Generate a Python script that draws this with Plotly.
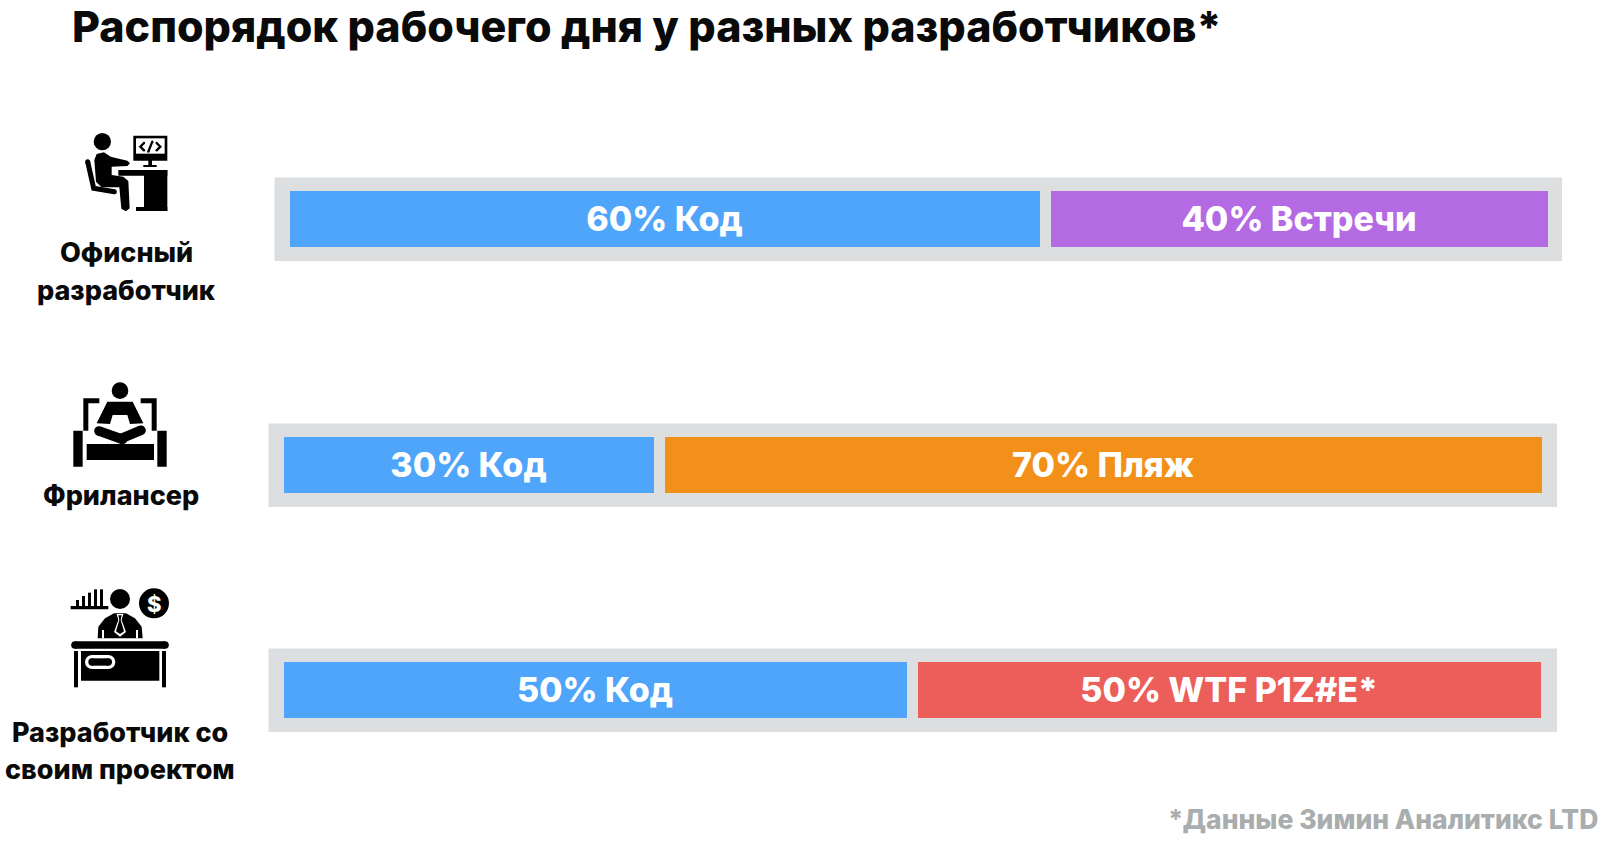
import plotly.graph_objects as go

# ---------- data ----------
title = "Распорядок рабочего дня у разных разработчиков*"
footnote = "*Данные Зимин Аналитикс LTD"
roles = [["Офисный", "разработчик"], ["Фрилансер"], ["Разработчик со", "своим проектом"]]
code_values = [60, 30, 50]
other_values = [40, 70, 50]
code_labels = ["60% Код", "30% Код", "50% Код"]
other_labels = ["40% Встречи", "70% Пляж", "50% WTF P1Z#E*"]

BLUE = "#4FA5FA"
other_colors = ["#B36AE2", "#F29019", "#EC5E5A"]
TRACK = "#DCDEE0"
FONT = "Inter"

W, H = 1600, 845
# pixel geometry: track box (x0, x1, y0, y1) and coloured-bar extent
tracks = [(274.5, 1562, 177.5, 261), (268.5, 1557, 423.5, 507), (268.5, 1557, 648.5, 732)]
fills = [(290, 1548, 191, 247), (284, 1542, 437, 493), (284, 1541, 662.5, 718.5)]
GAP = 11

fig = go.Figure()
layout = dict(
    width=W, height=H, margin=dict(l=0, r=0, t=0, b=0, pad=0, autoexpand=False),
    paper_bgcolor="white", plot_bgcolor="rgba(0,0,0,0)",
    barmode="stack", showlegend=False, autosize=False,
    font=dict(family=FONT), bargap=0,
)
shapes, annotations = [], []

for i in range(3):
    suf = "" if i == 0 else str(i + 1)
    tx0, tx1, ty0, ty1 = tracks[i]
    fx0, fx1, fy0, fy1 = fills[i]
    # data rectangle sits GAP/2 outside the visible fill: outline is track-coloured
    rx0, rx1 = fx0 - GAP / 2, fx1 + GAP / 2
    per = (rx1 - rx0) / 100
    xr = [(tx0 - rx0) / per, (tx1 - rx0) / per]
    bar_w = (fy1 - fy0 + GAP) / (ty1 - ty0)
    for val, lab, col in ((code_values[i], code_labels[i], BLUE), (other_values[i], other_labels[i], other_colors[i])):
        fig.add_trace(go.Bar(
            x=[val], y=[0], orientation="h", width=[bar_w],
            xaxis="x" + suf, yaxis="y" + suf,
            marker=dict(color=col, line=dict(color=TRACK, width=GAP)),
            text=[lab], texttemplate="%{text}", textposition="inside",
            insidetextanchor="middle", textangle=0, constraintext="none",
            textfont=dict(family=FONT, size=34, color="white", weight=800),
            hoverinfo="skip",
        ))
    layout["xaxis" + suf] = dict(domain=[tx0 / W, tx1 / W], range=xr, visible=False, fixedrange=True, anchor="y" + suf)
    layout["yaxis" + suf] = dict(domain=[1 - ty1 / H, 1 - ty0 / H], range=[-0.5, 0.5], visible=False, fixedrange=True, anchor="x" + suf)
    shapes.append(dict(type="rect", xref=("x" + suf + " domain"), yref=("y" + suf + " domain"),
                       x0=0, x1=1, y0=0, y1=1, fillcolor=TRACK, line_width=0, layer="below"))

# overlay pixel axes for the pictograms
layout["xaxis4"] = dict(domain=[0, 1], range=[0, W], visible=False, fixedrange=True, anchor="y4")
layout["yaxis4"] = dict(domain=[0, 1], range=[H, 0], visible=False, fixedrange=True, anchor="x4")
fig.add_trace(go.Scatter(x=[0], y=[0], xaxis="x4", yaxis="y4", mode="markers", marker=dict(opacity=0), hoverinfo="skip"))


def px(ox, oy, x, y):
    return ox + x / 3, oy + y / 3


def rect(ox, oy, x0, y0, x1, y1, color="black"):
    a, b = px(ox, oy, x0, y0)
    c, d = px(ox, oy, x1, y1)
    shapes.append(dict(type="rect", xref="x4", yref="y4", x0=a, y0=b, x1=c, y1=d, fillcolor=color, line_width=0, layer="above"))


def circ(ox, oy, cx, cy, r, color="black"):
    a, b = px(ox, oy, cx, cy)
    r = r / 3
    shapes.append(dict(type="circle", xref="x4", yref="y4", x0=a - r, y0=b - r, x1=a + r, y1=b + r, fillcolor=color, line_width=0, layer="above"))


def poly(ox, oy, pts, color="black", closed=True, lw=0):
    s = ""
    for k, (x, y) in enumerate(pts):
        a, b = px(ox, oy, x, y)
        s += ("M" if k == 0 else "L") + f"{a:.2f},{b:.2f} "
    if closed:
        s += "Z"
    d = dict(type="path", xref="x4", yref="y4", path=s, layer="above")
    if closed:
        d.update(fillcolor=color, line_width=0)
    else:
        d.update(fillcolor="rgba(0,0,0,0)", line=dict(color=color, width=lw / 3))
    shapes.append(d)


def stroke(ox, oy, pts, lw, color="black"):
    poly(ox, oy, pts, color=color, closed=False, lw=lw)
    for x, y in (pts[0], pts[-1]):
        circ(ox, oy, x, y, lw / 2, color)


# icon 1: developer at desk
o = (0, 110)
circ(*o, 307, 95, 26)
rect(*o, 400, 77, 502, 152)
rect(*o, 408, 85, 494, 131, "white")
stroke(*o, [(432, 99), (421, 110), (432, 121)], 7)
stroke(*o, [(470, 99), (481, 110), (470, 121)], 7)
stroke(*o, [(457, 95), (445, 125)], 7)
rect(*o, 445, 150, 456, 166)
rect(*o, 430, 165, 470, 171)
rect(*o, 355, 180, 502, 197)
rect(*o, 432, 180, 502, 303)
rect(*o, 408, 291, 502, 303)
poly(*o, [(283, 150), (290, 132), (312, 127), (332, 140), (382, 152), (390, 160), (382, 168), (335, 170),
          (335, 195), (370, 200), (385, 213), (389, 295), (378, 304), (364, 296), (358, 232), (305, 232), (288, 215)])
stroke(*o, [(263, 155), (281, 235), (343, 245)], 15)

# icon 2: freelancer on a sofa
o = (0, 360)
circ(*o, 360, 92, 25)
for m in (False, True):
    f = (lambda x: 720 - x) if m else (lambda x: x)
    poly(*o, [(f(a), b) for a, b in [(250, 115), (298, 115), (298, 130), (265, 130), (265, 212), (248, 212),
                                     (248, 320), (220, 320), (220, 212), (250, 212)]])
    poly(*o, [(f(a), b) for a, b in [(322, 125), (360, 125), (360, 165), (338, 165), (330, 192), (290, 190)]])
stroke(*o, [(297, 213), (368, 238)], 29)
stroke(*o, [(423, 211), (362, 236)], 29)
rect(*o, 260, 252, 462, 300)

# icon 3: developer with own project
o = (0, 570)
rect(*o, 212, 108, 325, 118)
for bx, top in zip((228, 246, 264, 282, 300), (90, 78, 68, 58, 58)):
    rect(*o, bx, top, bx + 9, 110)
circ(*o, 360, 87, 30)
circ(*o, 462, 100, 45)
poly(*o, [(293, 205), (295, 170), (315, 145), (342, 130), (378, 130), (405, 145), (425, 170), (428, 205)])
poly(*o, [(350, 132), (370, 132), (365, 150), (378, 186), (360, 200), (342, 186), (355, 150)], "white")
poly(*o, [(355, 136), (365, 136), (362, 150), (372, 184), (360, 192), (348, 184), (358, 150)])
rect(*o, 306, 180, 312, 205, "white")
rect(*o, 408, 180, 414, 205, "white")
stroke(*o, [(225, 225), (495, 225)], 23)
rect(*o, 222, 243, 234, 352)
rect(*o, 486, 243, 498, 352)
rect(*o, 243, 243, 478, 332)
stroke(*o, [(276, 276), (325, 276)], 42, "white")
stroke(*o, [(276, 276), (325, 276)], 22)
annotations.append(dict(xref="x4", yref="y4", x=154, y=603.5, text="$", showarrow=False,
                        font=dict(family=FONT, size=22, color="white", weight=800)))


def label(x, y, text, size, color="black", anchor="center"):
    annotations.append(dict(xref="x4", yref="y4", x=x, y=y, text=text, showarrow=False, xanchor=anchor, yanchor="middle",
                            font=dict(family=FONT, size=size, color=color, weight=800)))


label(70, 26, title, 43, "#0A0A0A", "left")
label(1600, 819, footnote, 26.5, "#A9ADAD", "right")
role_pos = [(126, [252.5, 290.5]), (120.5, [495.5]), (120, [732.5, 769.5])]
for (cx, ys), lines in zip(role_pos, roles):
    for y, t in zip(ys, lines):
        label(cx, y, t, 27, "#0A0A0A")

layout["shapes"] = shapes
layout["annotations"] = annotations
fig.update_layout(**layout)
fig.write_html("out.html", config=dict(displayModeBar=False),
               post_script="document.body.style.margin='0';document.body.style.overflow='hidden';")
